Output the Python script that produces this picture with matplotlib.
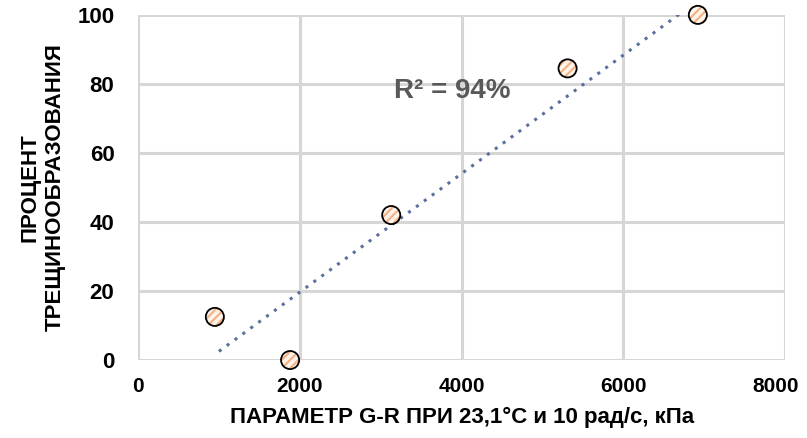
import numpy as np
import matplotlib.pyplot as plt
import matplotlib.transforms as mtransforms

plt.rcParams['font.family'] = ['Liberation Sans', 'DejaVu Sans']
plt.rcParams['hatch.linewidth'] = 1.5

# данные
gr_param = [950, 1880, 3130, 5310, 6920]
crack_pct = [12.5, 0, 42, 84.5, 100]
x_ticks = [0, 2000, 4000, 6000, 8000]
y_ticks = [0, 20, 40, 60, 80, 100]

fig = plt.figure(figsize=(8.07, 4.38), dpi=100)
ax = fig.add_axes([0.171, 0.178, 0.802, 0.788])

# линейный тренд
k, b = np.polyfit(gr_param, crack_pct, 1)
xt = np.linspace(1000, 6920, 100)
ax.plot(xt, k * xt + b, linestyle=(0, (1, 2.2)), color='#5b6f9e', lw=2.2, zorder=2)

# маркеры: штриховка + контур
ax.scatter(gr_param, crack_pct, s=170, facecolor='#fff4ea', edgecolor='#f4b183',
           hatch='////', linewidth=0, zorder=3, clip_on=False)
ax.scatter(gr_param, crack_pct, s=170, facecolor='none', edgecolor='black',
           linewidth=1.3, zorder=4, clip_on=False)

ax.text(3880, 78, 'R² = 94%', fontsize=20, fontweight='bold', color='#595959',
        ha='center', va='center')

ax.set_xlim(0, 8000)
ax.set_ylim(0, 100)
ax.set_xticks(x_ticks)
ax.set_yticks(y_ticks)
ax.grid(True, color='#d6d6d6', lw=2.2)
ax.set_axisbelow(True)
for s in ax.spines.values():
    s.set_visible(False)
ax.tick_params(axis='x', length=0, labelsize=15, pad=12)
ax.tick_params(axis='y', length=0, labelsize=16, pad=17)
for lab in ax.get_xticklabels() + ax.get_yticklabels():
    lab.set_fontweight('bold')
# последнюю подпись чуть влево, чтобы не обрезалась
last = ax.get_xticklabels()[-1]
last.set_transform(last.get_transform() +
                   mtransforms.ScaledTranslation(-10 / 100, 0, fig.dpi_scale_trans))

ax.set_xlabel('ПАРАМЕТР G-R ПРИ 23,1°C и 10 рад/с, кПа', fontsize=16,
              fontweight='bold', labelpad=8)
ax.set_ylabel('ПРОЦЕНТ\nТРЕЩИНООБРАЗОВАНИЯ', fontsize=16, fontweight='bold',
              labelpad=8, linespacing=1.3)

fig.savefig('out.png', dpi=100)
